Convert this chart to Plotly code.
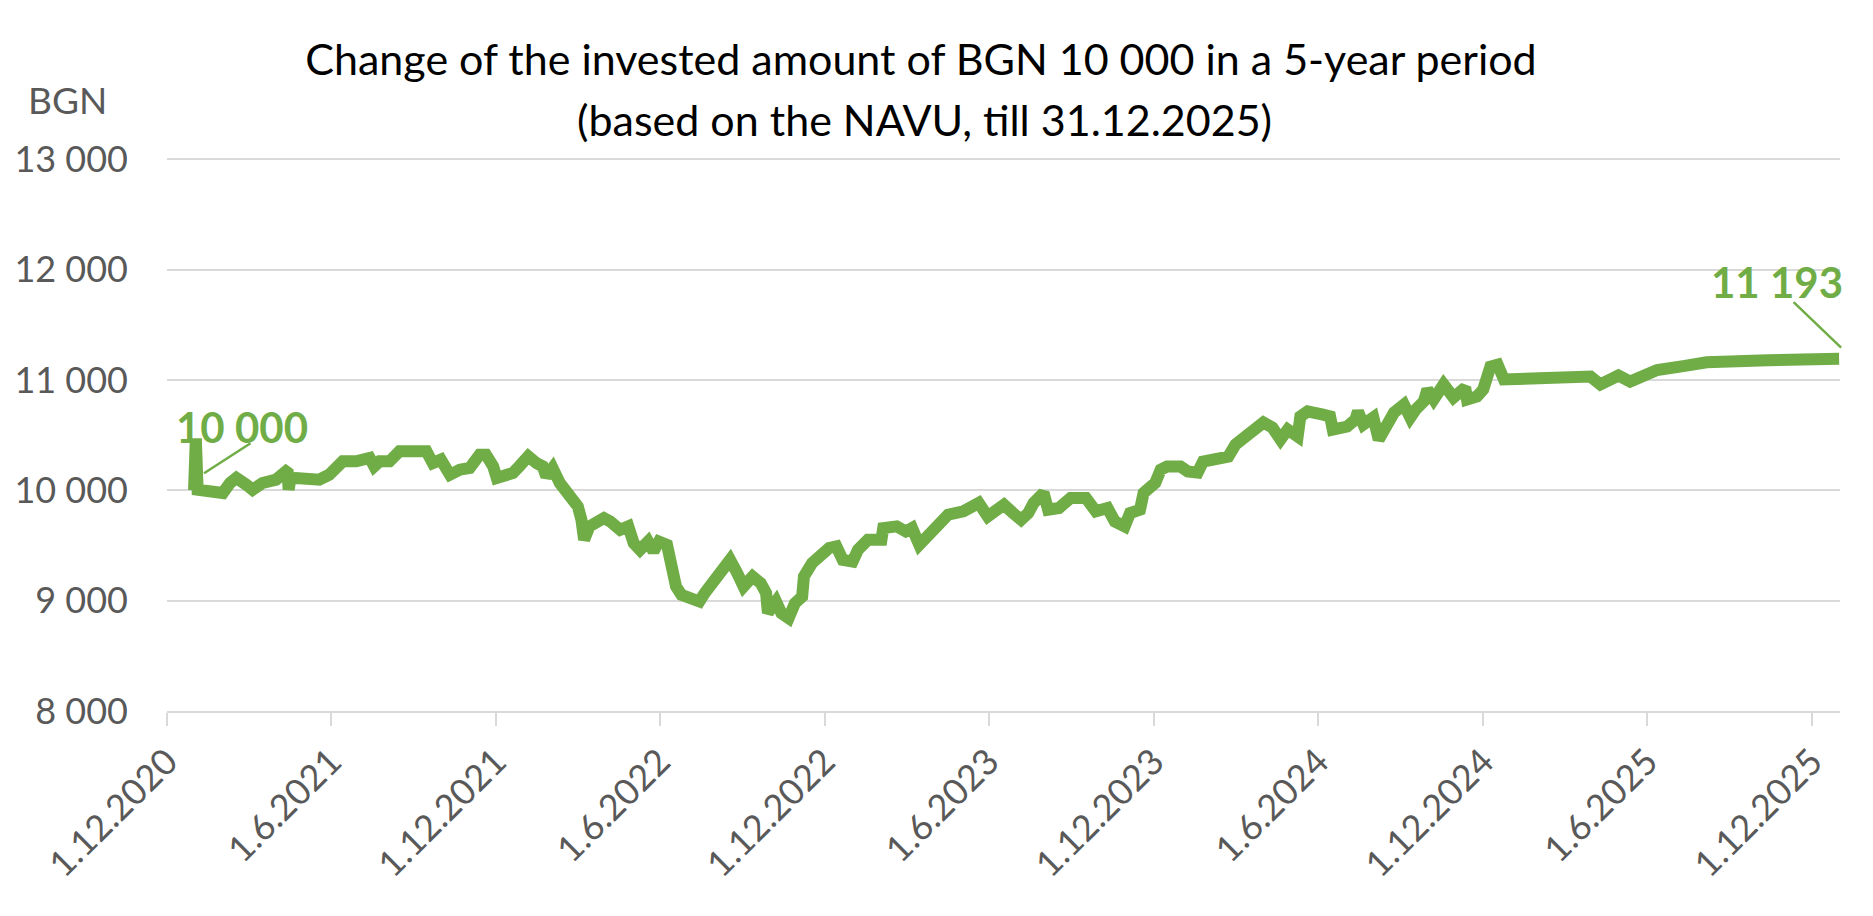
import plotly.graph_objects as go

# ---- data ----
dates = [
    "2020-12-31", "2021-01-02", "2021-01-04", "2021-01-13", "2021-01-24", "2021-02-01",
    "2021-02-09", "2021-02-16", "2021-02-27", "2021-03-06", "2021-03-17", "2021-03-25",
    "2021-04-01", "2021-04-12", "2021-04-14", "2021-04-15", "2021-04-17", "2021-04-23",
    "2021-05-04", "2021-05-19", "2021-05-30", "2021-06-14", "2021-06-29", "2021-07-14",
    "2021-07-19", "2021-07-25", "2021-08-05", "2021-08-16", "2021-08-31", "2021-09-15",
    "2021-09-22", "2021-10-01", "2021-10-11", "2021-10-22", "2021-11-02", "2021-11-13",
    "2021-11-20", "2021-11-28", "2021-12-02", "2021-12-13", "2021-12-20", "2021-12-27",
    "2022-01-06", "2022-01-15", "2022-01-22", "2022-01-26", "2022-02-02", "2022-02-10",
    "2022-02-19", "2022-02-25", "2022-03-02", "2022-03-06", "2022-03-09", "2022-03-15",
    "2022-03-31", "2022-04-07", "2022-04-18", "2022-04-27", "2022-05-03", "2022-05-10",
    "2022-05-19", "2022-05-25", "2022-05-31", "2022-06-09", "2022-06-15", "2022-06-19",
    "2022-06-25", "2022-07-09", "2022-07-15", "2022-07-21", "2022-08-01", "2022-08-18",
    "2022-08-26", "2022-09-02", "2022-09-12", "2022-09-21", "2022-09-27", "2022-09-29",
    "2022-10-08", "2022-10-14", "2022-10-22", "2022-10-29", "2022-11-06", "2022-11-08",
    "2022-11-17", "2022-11-26", "2022-12-06", "2022-12-14", "2022-12-21", "2023-01-01",
    "2023-01-07", "2023-01-18", "2023-02-02", "2023-02-04", "2023-02-19", "2023-03-01",
    "2023-03-08", "2023-03-16", "2023-03-24", "2023-04-02", "2023-04-17", "2023-05-04",
    "2023-05-21", "2023-05-31", "2023-06-18", "2023-06-28", "2023-07-07", "2023-07-15",
    "2023-07-21", "2023-08-01", "2023-08-06", "2023-08-18", "2023-08-31", "2023-09-17",
    "2023-09-28", "2023-10-11", "2023-10-19", "2023-10-30", "2023-11-05", "2023-11-16",
    "2023-11-20", "2023-12-03", "2023-12-09", "2023-12-16", "2023-12-31", "2024-01-08",
    "2024-01-19", "2024-01-25", "2024-02-13", "2024-02-22", "2024-03-01", "2024-03-14",
    "2024-03-25", "2024-04-01", "2024-04-11", "2024-04-20", "2024-04-28", "2024-05-09",
    "2024-05-12", "2024-05-20", "2024-06-05", "2024-06-14", "2024-06-17", "2024-07-03",
    "2024-07-12", "2024-07-15", "2024-07-21", "2024-08-01", "2024-08-07", "2024-08-17",
    "2024-08-24", "2024-09-04", "2024-09-11", "2024-09-17", "2024-09-26", "2024-09-30",
    "2024-10-07", "2024-10-18", "2024-10-29", "2024-11-11", "2024-11-13", "2024-11-24",
    "2024-12-01", "2024-12-09", "2024-12-17", "2024-12-24", "2025-01-26", "2025-03-05",
    "2025-03-30", "2025-04-10", "2025-04-30", "2025-05-13", "2025-05-24", "2025-06-12",
    "2025-07-11", "2025-08-06", "2025-10-13", "2025-12-31",
]
values = [
    10000, 10470, 10005, 9990, 9990, 9975,
    10066, 10111, 10051, 10005, 10066, 10081,
    10096, 10172, 10160, 10005, 10100, 10111,
    10096, 10096, 10141, 10262, 10262, 10293,
    10217, 10262, 10262, 10353, 10353, 10353,
    10247, 10278, 10141, 10187, 10202, 10323,
    10323, 10217, 10111, 10141, 10157, 10217,
    10308, 10247, 10217, 10126, 10202, 10066,
    9975, 9945, 9854, 9733, 9552, 9673,
    9748, 9718, 9642, 9673, 9521, 9461,
    9536, 9446, 9536, 9506, 9249, 9128,
    9053, 9023, 8992, 9070, 9189, 9370,
    9249, 9128, 9219, 9158, 9068, 8889,
    8992, 8886, 8841, 8977, 9037, 9219,
    9340, 9400, 9477, 9491, 9370, 9355,
    9461, 9552, 9552, 9658, 9673, 9627,
    9658, 9506, 9582, 9673, 9779, 9809,
    9885, 9763, 9869, 9794, 9733, 9794,
    9885, 9976, 9824, 9839, 9930, 9930,
    9809, 9839, 9718, 9673, 9794, 9824,
    9976, 10067, 10187, 10215, 10215, 10170,
    10160, 10260, 10280, 10305, 10414, 10487,
    10550, 10614, 10568, 10460, 10550, 10487,
    10669, 10714, 10687, 10669, 10550, 10578,
    10641, 10714, 10596, 10660, 10460, 10578,
    10705, 10777, 10660, 10732, 10805, 10914,
    10823, 10960, 10841, 10932, 10823, 10850,
    10914, 11121, 11139, 11004, 11015, 11025,
    11031, 10960, 11040, 10985, 11030, 11090,
    11125, 11160, 11178, 11193,
]

x_tick_vals = ["2020-12-01", "2021-06-01", "2021-12-01", "2022-06-01", "2022-12-01", "2023-06-01",
               "2023-12-01", "2024-06-01", "2024-12-01", "2025-06-01", "2025-12-01"]
x_tick_text = ["1.12.2020", "1.6.2021", "1.12.2021", "1.6.2022", "1.12.2022", "1.6.2023",
               "1.12.2023", "1.6.2024", "1.12.2024", "1.6.2025", "1.12.2025"]
y_tick_vals = [8000, 9000, 10000, 11000, 12000, 13000]
y_tick_text = ["8 000", "9 000", "10 000", "11 000", "12 000", "13 000"]

title_text = "Change of the invested amount of BGN 10 000 in a 5-year period"
subtitle_text = "(based on the NAVU, till 31.12.2025)"
unit_text = "BGN"

GREEN = "#70AD47"
GREY = "#595959"
GRID = "#D9D9D9"
FONT = "Lato"

fig = go.Figure()
fig.add_trace(go.Scatter(
    x=dates, y=values, mode="lines",
    line=dict(color=GREEN, width=12),
    hoverinfo="skip", showlegend=False,
))

fig.update_layout(
    width=1873, height=916,
    margin=dict(l=167, r=33, t=157, b=205),
    paper_bgcolor="white", plot_bgcolor="white",
    font=dict(family=FONT, color=GREY),
    title=dict(text=title_text, font=dict(family=FONT, size=43, color="black"),
               x=921 / 1873, xanchor="center", xref="container",
               y=1 - 60 / 916, yanchor="middle", yref="container"),
    showlegend=False,
)

fig.update_xaxes(
    type="date", range=["2020-12-01", "2026-01-01"],
    tickmode="array", tickvals=x_tick_vals, ticktext=x_tick_text,
    tickangle=-45, tickfont=dict(family=FONT, size=36, color=GREY),
    ticks="outside", ticklen=13, tickcolor=GRID, tickwidth=2,
    showline=True, linecolor=GRID, linewidth=2,
    showgrid=False, zeroline=False,
)
fig.update_yaxes(
    range=[8000, 13020],
    tickmode="array", tickvals=y_tick_vals, ticktext=y_tick_text,
    tickfont=dict(family=FONT, size=36, color=GREY),
    ticklabelstandoff=38,
    showgrid=True, gridcolor=GRID, gridwidth=2,
    showline=False, zeroline=False,
)

# subtitle and unit
fig.add_annotation(text=subtitle_text, xref="paper", yref="paper", x=0.4525, y=1 + 37 / 554,
                   xanchor="center", yanchor="middle", showarrow=False,
                   font=dict(family=FONT, size=43, color="black"))
fig.add_annotation(text=unit_text, xref="paper", yref="paper", x=-100 / 1673, y=1 + 58 / 554,
                   xanchor="center", yanchor="middle", showarrow=False,
                   font=dict(family=FONT, size=37, color=GREY))

# data labels with leader lines
first_x, first_y = dates[0], values[0]
last_x, last_y = dates[-1], values[-1]
fig.add_annotation(x=first_x, y=first_y, text="<b>10 000</b>", showarrow=False,
                   xshift=48, yshift=63, font=dict(family=FONT, size=42, color=GREEN))
fig.add_annotation(x=first_x, y=first_y, text="", showarrow=True, arrowhead=0,
                   arrowwidth=2.5, arrowcolor=GREEN, xshift=10, yshift=17,
                   ax=48, ay=-31, standoff=0, startstandoff=0)
fig.add_annotation(x=last_x, y=last_y, text="<b>11 193</b>", showarrow=False,
                   xshift=-62, yshift=77, font=dict(family=FONT, size=42, color=GREEN))
fig.add_annotation(x=last_x, y=last_y, text="", showarrow=True, arrowhead=0,
                   arrowwidth=2.5, arrowcolor=GREEN, xshift=2, yshift=11,
                   ax=-49, ay=-47, standoff=0, startstandoff=0)

fig.write_html("out.html", config={"displayModeBar": False},
               post_script="document.body.style.margin='0';document.body.style.padding='0';")
